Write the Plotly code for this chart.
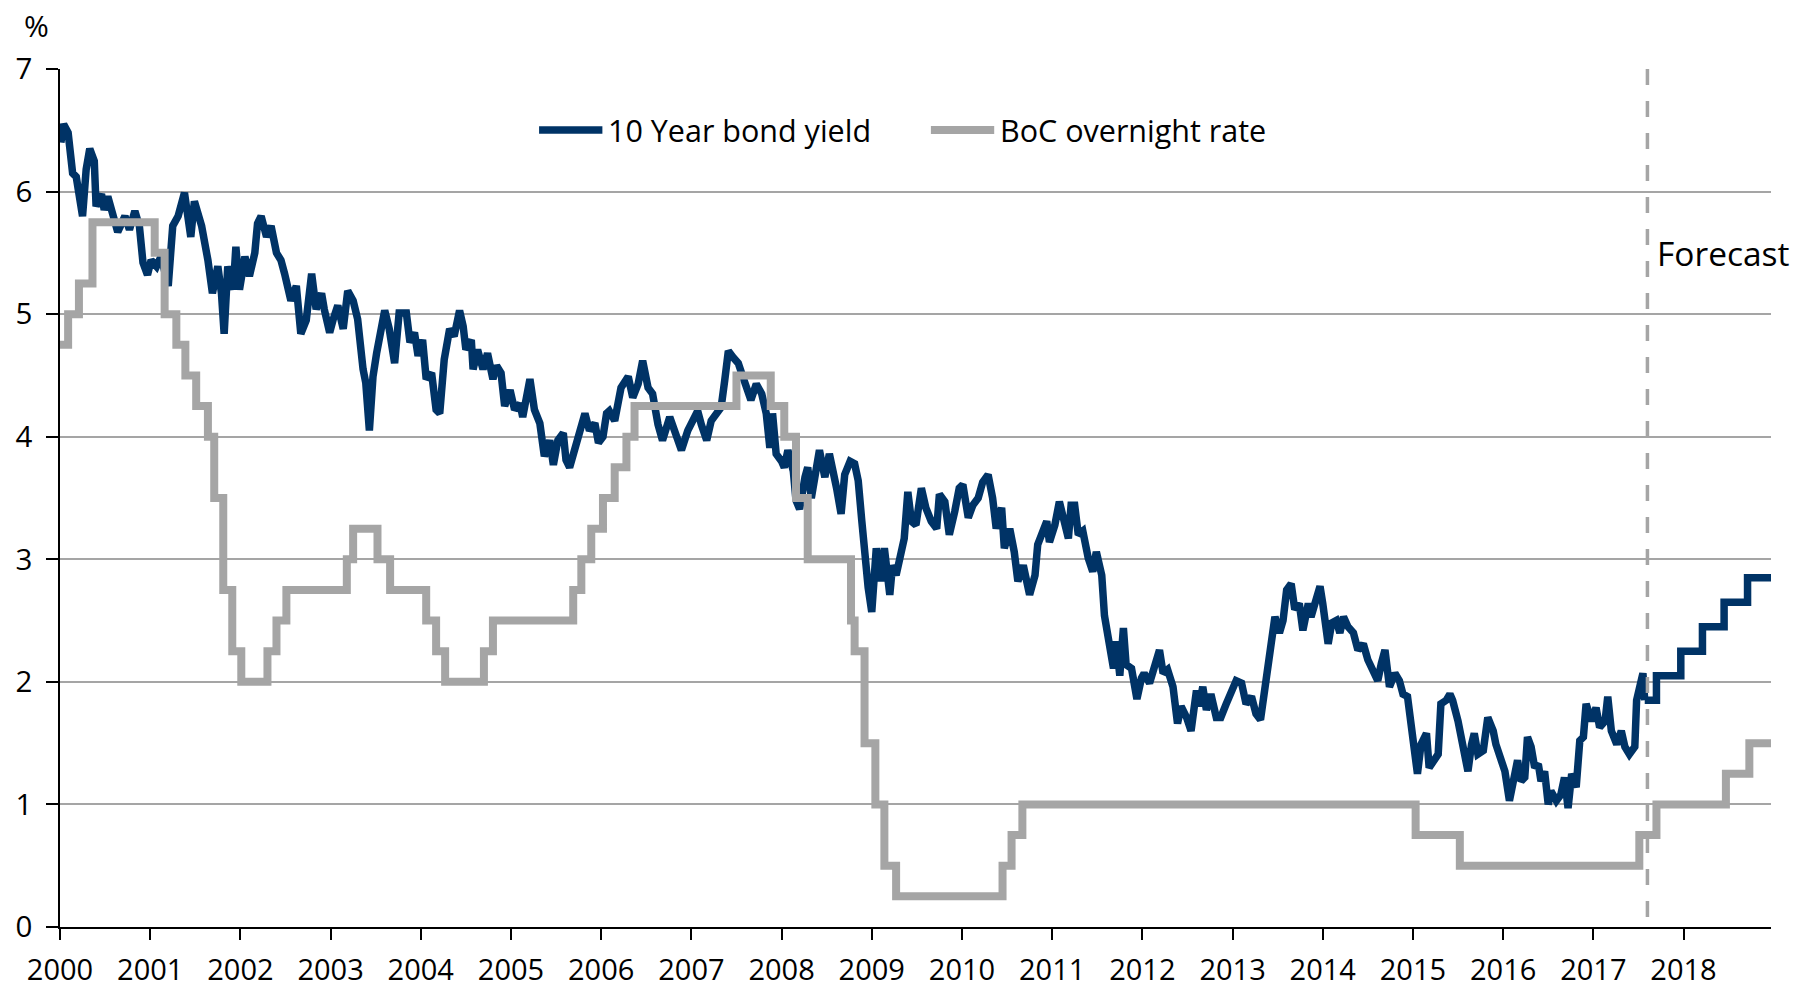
import plotly.graph_objects as go

# 10 year bond yield (decimal years, %)
bond_t = [
    2000.01, 2000.04, 2000.09, 2000.12, 2000.14, 2000.18, 2000.22, 2000.25, 2000.29, 2000.33,
    2000.38, 2000.40, 2000.46, 2000.49, 2000.53, 2000.59, 2000.64, 2000.72, 2000.77, 2000.83,
    2000.88, 2000.92, 2000.97,
    2001.01, 2001.07, 2001.12, 2001.20, 2001.25, 2001.31, 2001.38, 2001.42, 2001.45, 2001.49,
    2001.57, 2001.64, 2001.69, 2001.75, 2001.79, 2001.82, 2001.86, 2001.92, 2001.95, 2001.99,
    2002.05, 2002.10, 2002.16, 2002.19, 2002.23, 2002.29, 2002.34, 2002.40, 2002.45, 2002.49,
    2002.56, 2002.62, 2002.67, 2002.73, 2002.79, 2002.84, 2002.90, 2002.93, 2002.99,
    2003.03, 2003.08, 2003.14, 2003.19, 2003.25, 2003.30, 2003.36, 2003.39, 2003.43, 2003.47,
    2003.51, 2003.54, 2003.60, 2003.65, 2003.71, 2003.76, 2003.84, 2003.88, 2003.93, 2003.97,
    2004.02, 2004.06, 2004.12, 2004.17, 2004.21, 2004.26, 2004.32, 2004.37, 2004.43, 2004.47,
    2004.50, 2004.56, 2004.58, 2004.63, 2004.69, 2004.74, 2004.80, 2004.84, 2004.89, 2004.93, 2004.99,
    2005.04, 2005.10, 2005.13, 2005.17, 2005.21, 2005.26, 2005.32, 2005.37, 2005.43, 2005.47,
    2005.52, 2005.58, 2005.61, 2005.65, 2005.71, 2005.76, 2005.82, 2005.87, 2005.93, 2005.97,
    2006.02, 2006.06, 2006.09, 2006.15, 2006.22, 2006.30, 2006.35, 2006.41, 2006.46, 2006.52,
    2006.57, 2006.63, 2006.68, 2006.76, 2006.81, 2006.89, 2006.96,
    2007.02, 2007.07, 2007.11, 2007.17, 2007.22, 2007.28, 2007.33, 2007.37, 2007.41, 2007.46,
    2007.52, 2007.57, 2007.61, 2007.66, 2007.72, 2007.78, 2007.83, 2007.87, 2007.90, 2007.94,
    2008.00, 2008.03, 2008.07, 2008.13, 2008.16, 2008.20, 2008.26, 2008.29, 2008.33, 2008.39,
    2008.42, 2008.48, 2008.53, 2008.61, 2008.66, 2008.70, 2008.76, 2008.81, 2008.85, 2008.89,
    2008.92, 2008.96, 2009.00,
    2009.05, 2009.10, 2009.14, 2009.20, 2009.23, 2009.27, 2009.33, 2009.36, 2009.40, 2009.44,
    2009.49, 2009.55, 2009.60, 2009.66, 2009.72, 2009.75, 2009.81, 2009.86, 2009.92, 2009.97,
    2010.01, 2010.07, 2010.12, 2010.18, 2010.23, 2010.29, 2010.34, 2010.38, 2010.44, 2010.47,
    2010.53, 2010.58, 2010.62, 2010.68, 2010.75, 2010.81, 2010.84, 2010.90, 2010.94, 2010.97,
    2011.03, 2011.08, 2011.12, 2011.18, 2011.21, 2011.25, 2011.29, 2011.34, 2011.40, 2011.45,
    2011.49, 2011.55, 2011.58, 2011.62, 2011.68, 2011.71, 2011.75, 2011.79, 2011.82, 2011.88,
    2011.94, 2011.99,
    2012.02, 2012.08, 2012.13, 2012.19, 2012.23, 2012.28, 2012.34, 2012.39, 2012.43, 2012.49,
    2012.54, 2012.60, 2012.63, 2012.67, 2012.71, 2012.76, 2012.82, 2012.87, 2012.93, 2012.99,
    2013.04, 2013.10, 2013.15, 2013.21, 2013.26, 2013.31, 2013.36, 2013.39, 2013.43, 2013.47,
    2013.52, 2013.56, 2013.60, 2013.65, 2013.69, 2013.74, 2013.78, 2013.84, 2013.87, 2013.93, 2013.97,
    2014.00, 2014.06, 2014.10, 2014.15, 2014.19, 2014.23, 2014.28, 2014.34, 2014.39, 2014.45,
    2014.50, 2014.56, 2014.61, 2014.65, 2014.69, 2014.74, 2014.80, 2014.85, 2014.89, 2014.94, 2014.98,
    2015.02, 2015.05, 2015.09, 2015.15, 2015.18, 2015.24, 2015.28, 2015.31, 2015.37, 2015.41,
    2015.44, 2015.50, 2015.55, 2015.61, 2015.65, 2015.68, 2015.72, 2015.78, 2015.83, 2015.89,
    2015.92, 2015.98,
    2016.02, 2016.07, 2016.11, 2016.16, 2016.20, 2016.24, 2016.27, 2016.31, 2016.35, 2016.39,
    2016.42, 2016.46, 2016.50, 2016.53, 2016.59, 2016.64, 2016.68, 2016.72, 2016.76, 2016.81,
    2016.85, 2016.89, 2016.92, 2016.98,
    2017.03, 2017.07, 2017.13, 2017.16, 2017.20, 2017.26, 2017.31, 2017.35, 2017.40, 2017.46,
    2017.48, 2017.52, 2017.55, 2017.57,
]
bond_v = [
    6.40, 6.55, 6.48, 6.33, 6.15, 6.12, 5.88, 5.80, 6.18, 6.35,
    6.25, 5.88, 5.98, 5.85, 5.96, 5.82, 5.67, 5.80, 5.69, 5.84,
    5.72, 5.42, 5.32,
    5.44, 5.39, 5.47, 5.23, 5.72, 5.80, 5.99, 5.82, 5.63, 5.92,
    5.72, 5.44, 5.17, 5.39, 5.17, 4.84, 5.39, 5.20, 5.55, 5.20,
    5.47, 5.31, 5.50, 5.74, 5.80, 5.63, 5.72, 5.50, 5.44, 5.33,
    5.11, 5.23, 4.84, 4.95, 5.33, 5.04, 5.17, 5.04, 4.85,
    4.96, 5.07, 4.88, 5.19, 5.11, 4.96, 4.55, 4.44, 4.05, 4.49,
    4.68, 4.82, 5.03, 4.88, 4.60, 5.01, 5.01, 4.77, 4.85, 4.66,
    4.79, 4.47, 4.52, 4.22, 4.19, 4.63, 4.88, 4.82, 5.03, 4.90,
    4.71, 4.79, 4.55, 4.71, 4.55, 4.68, 4.47, 4.58, 4.52, 4.25, 4.38,
    4.22, 4.27, 4.16, 4.30, 4.47, 4.22, 4.11, 3.84, 3.97, 3.77,
    3.97, 4.03, 3.81, 3.75, 3.92, 4.08, 4.19, 4.05, 4.11, 3.95,
    4.00, 4.19, 4.21, 4.13, 4.40, 4.49, 4.32, 4.43, 4.62, 4.40,
    4.35, 4.10, 3.97, 4.16, 4.05, 3.89, 4.05,
    4.13, 4.21, 4.10, 3.97, 4.13, 4.19, 4.24, 4.46, 4.70, 4.65,
    4.60, 4.49, 4.40, 4.30, 4.43, 4.35, 4.19, 3.91, 4.19, 3.86,
    3.80, 3.75, 3.89, 3.72, 3.48, 3.41, 3.67, 3.75, 3.50, 3.75,
    3.89, 3.67, 3.86, 3.58, 3.37, 3.69, 3.80, 3.78, 3.64, 3.31,
    3.04, 2.77, 2.57,
    3.09, 2.82, 3.09, 2.71, 2.95, 2.87, 3.12, 3.17, 3.55, 3.31,
    3.28, 3.58, 3.42, 3.31, 3.25, 3.53, 3.47, 3.20, 3.39, 3.58,
    3.61, 3.34, 3.44, 3.50, 3.63, 3.69, 3.50, 3.25, 3.42, 3.09,
    3.25, 3.06, 2.82, 2.95, 2.71, 2.87, 3.12, 3.25, 3.31, 3.14,
    3.28, 3.47, 3.36, 3.17, 3.44, 3.44, 3.20, 3.23, 3.01, 2.90,
    3.06, 2.87, 2.54, 2.33, 2.11, 2.33, 2.05, 2.44, 2.14, 2.11,
    1.86, 2.03,
    2.07, 1.99, 2.10, 2.26, 2.07, 2.10, 1.96, 1.66, 1.80, 1.71,
    1.60, 1.93, 1.80, 1.96, 1.77, 1.90, 1.71, 1.71, 1.82, 1.93,
    2.01, 1.99, 1.82, 1.88, 1.74, 1.69, 1.96, 2.15, 2.42, 2.53,
    2.40, 2.50, 2.75, 2.80, 2.59, 2.64, 2.42, 2.64, 2.53, 2.69, 2.78,
    2.64, 2.31, 2.48, 2.50, 2.40, 2.53, 2.45, 2.40, 2.26, 2.31,
    2.18, 2.10, 2.01, 2.15, 2.26, 1.96, 2.07, 2.01, 1.90, 1.88, 1.68,
    1.38, 1.25, 1.49, 1.58, 1.30, 1.36, 1.41, 1.82, 1.85, 1.90,
    1.85, 1.68, 1.47, 1.27, 1.49, 1.58, 1.41, 1.44, 1.71, 1.60,
    1.49, 1.38,
    1.27, 1.03, 1.16, 1.36, 1.19, 1.22, 1.55, 1.47, 1.30, 1.33,
    1.19, 1.27, 1.00, 1.11, 1.03, 1.08, 1.22, 0.97, 1.25, 1.14,
    1.52, 1.55, 1.82, 1.68,
    1.79, 1.63, 1.68, 1.88, 1.60, 1.49, 1.60, 1.47, 1.41, 1.47,
    1.85, 1.96, 2.07, 1.85,
]

# forecast steps for the 10 year yield
bond_fc_t = [2017.57, 2017.70, 2017.97, 2018.21, 2018.45, 2018.71, 2018.97]
bond_fc_v = [1.85, 2.05, 2.25, 2.45, 2.65, 2.85, 2.85]

# BoC overnight rate: date of each change and the new level
boc_t = [
    2000.00, 2000.09, 2000.21, 2000.36, 2001.05, 2001.16, 2001.29, 2001.39, 2001.51, 2001.64,
    2001.71, 2001.81, 2001.91, 2002.01, 2002.30, 2002.40, 2002.51, 2003.18, 2003.25, 2003.52,
    2003.66, 2004.06, 2004.17, 2004.27, 2004.70, 2004.80, 2005.69, 2005.78, 2005.89, 2006.02,
    2006.15, 2006.28, 2006.37, 2007.50, 2007.88, 2008.03, 2008.16, 2008.29, 2008.77, 2008.81,
    2008.92, 2009.04, 2009.14, 2009.27, 2010.45, 2010.55, 2010.67, 2015.03, 2015.52, 2017.51,
    2017.70, 2018.47, 2018.73, 2018.97,
]
boc_v = [
    4.75, 5.00, 5.25, 5.75, 5.50, 5.00, 4.75, 4.50, 4.25, 4.00,
    3.50, 2.75, 2.25, 2.00, 2.25, 2.50, 2.75, 3.00, 3.25, 3.00,
    2.75, 2.50, 2.25, 2.00, 2.25, 2.50, 2.75, 3.00, 3.25, 3.50,
    3.75, 4.00, 4.25, 4.50, 4.25, 4.00, 3.50, 3.00, 2.50, 2.25,
    1.50, 1.00, 0.50, 0.25, 0.50, 0.75, 1.00, 0.75, 0.50, 0.75,
    1.00, 1.25, 1.50, 1.50,
]

years = list(range(2000, 2019))
forecast_start = 2017.60

BLUE = '#003366'
GREY = '#A5A5A5'
FONT = 'Open Sans'
BLUE_W = 7.5
GREY_W = 8

fig = go.Figure()
fig.add_trace(go.Scatter(x=bond_t, y=bond_v, mode='lines', name='10 Year bond yield',
                         showlegend=False, line=dict(color=BLUE, width=BLUE_W)))
fig.add_trace(go.Scatter(x=bond_fc_t, y=bond_fc_v, mode='lines', showlegend=False,
                         line=dict(color=BLUE, width=BLUE_W, shape='hv')))
fig.add_trace(go.Scatter(x=boc_t, y=boc_v, mode='lines', name='BoC overnight rate',
                         showlegend=False, line=dict(color=GREY, width=GREY_W, shape='hv')))

fig.add_shape(type='line', xref='x', yref='y', x0=forecast_start, x1=forecast_start,
              y0=7, y1=0, line=dict(color=GREY, width=3.5, dash='16px,16px'))

# legend drawn by hand so the line samples are as long as in the original
legend_items = [('10 Year bond yield', BLUE, BLUE_W, 0.280), ('BoC overnight rate', GREY, GREY_W, 0.509)]
for label, colour, lw, lx in legend_items:
    fig.add_shape(type='line', xref='paper', yref='paper', x0=lx, x1=lx + 0.037,
                  y0=0.929, y1=0.929, line=dict(color=colour, width=lw))
    fig.add_annotation(x=lx + 0.039, y=0.929, xref='paper', yref='paper', text=label,
                       showarrow=False, xanchor='left', yanchor='middle',
                       font=dict(family=FONT, size=30.5, color='black'))

fig.add_annotation(x=forecast_start, y=5.5, xref='x', yref='y', text='Forecast',
                   showarrow=False, xanchor='left', yanchor='middle', xshift=8,
                   font=dict(family=FONT, size=33.5, color='black'))
fig.add_annotation(x=0, y=1, xref='paper', yref='paper', text='%', showarrow=False,
                   xanchor='center', yanchor='middle', xshift=-24, yshift=44,
                   font=dict(family=FONT, size=30, color='black'))

fig.update_layout(
    width=1814, height=987,
    margin=dict(l=60, r=43, t=69, b=60),
    paper_bgcolor='white', plot_bgcolor='white',
    font=dict(family=FONT, size=29, color='black'),
    showlegend=False,
    xaxis=dict(range=[2000, 2018.97], tickvals=years, ticktext=[str(y) for y in years],
               automargin=False,
               showgrid=False, zeroline=False, showline=True, linecolor='black', linewidth=1.5,
               ticks='outside', ticklen=11, tickwidth=1.5, tickcolor='black',
               ticklabelstandoff=5, tickfont=dict(family=FONT, size=29)),
    yaxis=dict(range=[0, 7], dtick=1, showgrid=True, gridcolor=GREY, gridwidth=1.5,
               automargin=False,
               zeroline=False, showline=True, linecolor='black', linewidth=1.5,
               ticks='outside', ticklen=12, tickwidth=1.5, tickcolor='black',
               ticklabelstandoff=8, tickfont=dict(family=FONT, size=29.5)),
)

# drop the browser's default page margin so the figure sits at the window's corner
fig.write_html("out.html", config={'displayModeBar': False},
               post_script="document.body.style.margin='0';")
